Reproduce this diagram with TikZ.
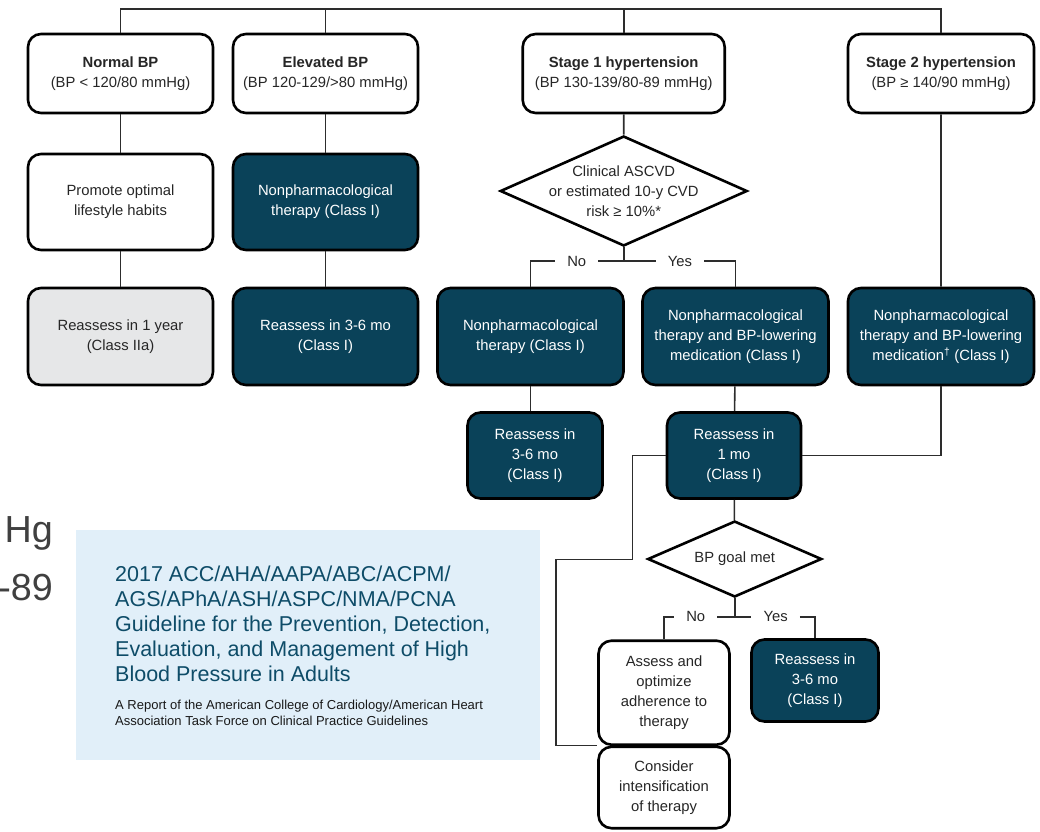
\documentclass[tikz,border=0pt]{standalone}
\usepackage{fontspec}
\setmainfont{Liberation Sans}
\usetikzlibrary{shapes.geometric}
\definecolor{bpdark}{RGB}{10,66,89}
\definecolor{bpgray}{RGB}{230,231,232}
\definecolor{bpblue}{RGB}{225,239,249}
\definecolor{bptitle}{RGB}{14,76,104}
\definecolor{bpline}{RGB}{45,45,45}
\begin{document}
\begin{tikzpicture}[x=1pt,y=-1pt,
box/.style={draw=black,line width=2.6pt,rounded corners=13pt,inner sep=0pt,align=center,font=\fontsize{14.8}{20}\selectfont,text=black!85},
wbox/.style={box,fill=white},
gbox/.style={box,fill=bpgray},
dbox/.style={box,fill=bpdark,text=white},
diam/.style={box,diamond,rounded corners=0pt,aspect=2.2,inner sep=-4pt,fill=white},
yn/.style={fill=white,inner xsep=12pt,inner ysep=1pt,font=\fontsize{14.8}{20}\selectfont,text=black!85},
link/.style={draw=bpline,line width=1.6pt}]
\useasboundingbox(0,0) rectangle (1040,831);
\node[anchor=base east,inner sep=0pt,font=\fontsize{37.7}{40}\selectfont,text=black!75](hg) at (53,542){Hg};
\node[anchor=base east,inner sep=0pt,font=\fontsize{37.7}{40}\selectfont,text=black!75](eightynine) at (53,600){-89};
\node[fill=bpblue,anchor=north west,inner sep=0pt,minimum width=464pt,minimum height=229.3pt](guide) at (76,530){};
\node[anchor=base west,inner sep=0pt,align=left,font=\fontsize{21.5}{25}\selectfont,text=bptitle](guidetitle) at (115,681.7){2017 ACC/AHA/AAPA/ABC/ACPM/\\AGS/APhA/ASH/ASPC/NMA/PCNA\\Guideline for the Prevention, Detection,\\Evaluation, and Management of High\\Blood Pressure in Adults};
\node[anchor=base west,inner sep=0pt,align=left,font=\fontsize{13}{16}\selectfont,text=black!90](guidesub) at (115,725){A Report of the American College of Cardiology/American Heart\\Association Task Force on Clinical Practice Guidelines};
\node[wbox,minimum width=185pt,minimum height=79pt](nbp) at (120.5,73.5){\textbf{Normal BP}\\(BP < 120/80 mmHg)};
\node[wbox,minimum width=185pt,minimum height=79pt](ebp) at (325.5,73.5){\textbf{Elevated BP}\\(BP 120-129/>80 mmHg)};
\node[wbox,minimum width=202pt,minimum height=79pt](sone) at (623.7,73.5){\textbf{Stage 1 hypertension}\\(BP 130-139/80-89 mmHg)};
\node[wbox,minimum width=186pt,minimum height=79pt](stwo) at (941,73.5){\textbf{Stage 2 hypertension}\\(BP ≥ 140/90 mmHg)};
\node[wbox,minimum width=185pt,minimum height=96pt](promote) at (120.5,202){Promote optimal\\lifestyle habits};
\node[dbox,minimum width=185pt,minimum height=96pt](enon) at (325.5,202){Nonpharmacological\\therapy (Class I)};
\node[diam,minimum width=247pt,minimum height=110pt](risk) at (623.7,191){Clinical ASCVD\\or estimated 10-y CVD\\risk ≥ 10\%*};
\node[gbox,minimum width=185pt,minimum height=97pt](ryear) at (120.5,336.5){Reassess in 1 year\\(Class IIa)};
\node[dbox,minimum width=185pt,minimum height=97pt](ethree) at (325.5,336.5){Reassess in 3-6 mo\\(Class I)};
\node[dbox,minimum width=186pt,minimum height=97pt](sonenon) at (530.5,336.5){Nonpharmacological\\therapy (Class I)};
\node[dbox,minimum width=186pt,minimum height=97pt](sonemed) at (735.5,336.5){Nonpharmacological\\therapy and BP-lowering\\medication (Class I)};
\node[dbox,minimum width=186pt,minimum height=97pt](stwomed) at (941,336.5){Nonpharmacological\\therapy and BP-lowering\\medication\textsuperscript{†} (Class I)};
\node[dbox,minimum width=135pt,minimum height=86pt](sonethree) at (535,455.5){Reassess in\\3-6 mo\\(Class I)};
\node[dbox,minimum width=134pt,minimum height=86pt](soneone) at (734,455.5){Reassess in\\1 mo\\(Class I)};
\node[diam,minimum width=174pt,minimum height=76pt](goal) at (734.7,559){BP goal met};
\node[wbox,minimum width=131pt,minimum height=104pt](assess) at (664,692.7){Assess and\\optimize\\adherence to\\therapy};
\node[wbox,minimum width=131pt,minimum height=81.4pt](consider) at (664,787.5){Consider\\intensification\\of therapy};
\node[dbox,minimum width=127pt,minimum height=82pt](goalthree) at (815,680.5){Reassess in\\3-6 mo\\(Class I)};
\node[yn](noone) at (576.7,261){No};
\node[yn](yesone) at (680,261){Yes};
\node[yn](notwo) at (695.7,616.7){No};
\node[yn](yestwo) at (775.7,616.7){Yes};
\coordinate(top) at (0,9);
\coordinate(bend) at (632.3,559.3);
\coordinate(back) at (555.7,0);
\draw[link](nbp.north) |- (top -| stwo.north) -- (stwo.north);
\draw[link](ebp.north) -- (ebp.north |- top);
\draw[link](sone.north) -- (sone.north |- top);
\draw[link](nbp)--(promote) (promote)--(ryear) (ebp)--(enon) (enon)--(ethree);
\draw[link](sone)--(risk) (stwo)--(stwomed) (sonemed)--(soneone) (soneone)--(goal);
\draw[link](sonenon.south)--(sonenon.south |- sonethree.north);
\draw[link](risk.south)--(risk.south |- noone);
\draw[link](sonenon.north) |- (noone.west) (noone.east)--(yesone.west) (yesone.east) -| (sonemed.north);
\draw[link](stwomed.south) |- (soneone.east);
\draw[link](soneone.west) -| (bend) -| (back |- consider.north west) -- (consider.north west);
\draw[link](goal.south)--(goal.south |- notwo);
\draw[link](assess.north) |- (notwo.west) (notwo.east)--(yestwo.west) (yestwo.east) -| (goalthree.north);
\end{tikzpicture}
\end{document}
